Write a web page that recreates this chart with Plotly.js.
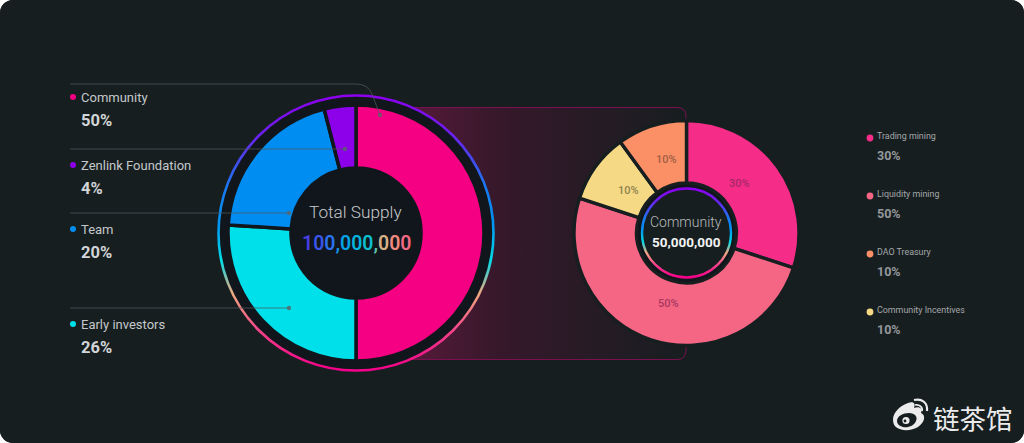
<!DOCTYPE html>
<html>
<head>
<meta charset="utf-8">
<script src="https://cdn.plot.ly/plotly-3.0.1.min.js"></script>
<style>
html,body{margin:0;padding:0;background:#fff;width:1024px;height:443px;overflow:hidden}
#card{width:1024px;height:443px;border-radius:13px;overflow:hidden;background:#171e20}
</style>
</head>
<body>
<div id="card"></div>
<script>
// ---- data ----
const supplyNames = ['Community','Early investors','Team','Zenlink Foundation'];
const supplyValues = [50,26,20,4];
const supplyColors = ['#f50082','#00e0ea','#008df2','#8c00ea'];
const communityNames = ['Trading mining','Liquidity mining','Community Incentives','DAO Treasury'];
const communityValues = [30,50,10,10];
const communityColors = ['#f52d88','#f56584','#f5d985','#fb8f65'];
const communityLabelColors = ['#a8286a','#a83a60','#8f8350','#a06045'];
const leftLegendNames = ['Community','Zenlink Foundation','Team','Early investors'];
const leftLegendPct = ['50%','4%','20%','26%'];
const leftLegendColors = ['#f50082','#8c00ea','#008df2','#00e0ea'];
const rightLegendNames = ['Trading mining','Liquidity mining','DAO Treasury','Community Incentives'];
const rightLegendPct = ['30%','50%','10%','10%'];
const rightLegendColors = ['#f52d88','#f56584','#fb8f65','#f5d985'];
const totalDigits = '100,000,000'.split('');
const totalDigitColors = ['#4a3fe0','#3a55e8','#2a72ee','#1590ea','#04a4e6','#02b4de','#0cc0d0','#60c0a8','#d8b088','#f08a80','#f06a84'];

// ---- layout in pixels ----
const W = 1024, H = 443;
const FONT = 'Roboto, sans-serif';
const pieA = {cx:356, cy:233, r:128, hole:0.508};
const pieB = {cx:686.5, cy:233, r:112.5, hole:0.444};
const sliceLabelX = [739,668,628,666], sliceLabelY = [183,303,190,159];
const dom = p => ({x:[(p.cx-p.r)/W,(p.cx+p.r)/W], y:[1-(p.cy+p.r)/H,1-(p.cy-p.r)/H]});
const circ = (cx,cy,r,extra) => Object.assign({type:'circle',xref:'x',yref:'y',x0:cx-r,x1:cx+r,y0:cy-r,y1:cy+r},extra);

const traces = [
 {type:'scatter',x:[0,W],y:[0,H],mode:'none',hoverinfo:'skip',showlegend:false},
 {type:'pie',labels:supplyNames,values:supplyValues,sort:false,direction:'clockwise',rotation:0,
  hole:pieA.hole,domain:dom(pieA),textinfo:'none',showlegend:false,
  marker:{colors:supplyColors,line:{color:'#10161b',width:3.5}}},
 {type:'pie',labels:communityNames,values:communityValues,sort:false,direction:'clockwise',rotation:0,
  hole:pieB.hole,domain:dom(pieB),textinfo:'none',showlegend:false,
  marker:{colors:communityColors,line:{color:'#171e20',width:3.4}}}
];

const shapes = [
 {type:'path',xref:'x',yref:'y',layer:'below',path:'M 400 107.5 L 677 107.5 Q 686 107.5 686 116 L 686 350 Q 686 359.5 677 359.5 L 400 359.5 Z',
  fillcolor:'#3a1a2e',line:{color:'#7a1050',width:1}},
 circ(pieA.cx,pieA.cy,137.5,{layer:'below',fillcolor:'#10161b',line:{color:'#8c00ea',width:2.6}}),
 circ(pieB.cx,pieB.cy,49.5,{layer:'below',fillcolor:'#10161b',line:{width:0}}),
 circ(pieB.cx,pieB.cy,44.5,{layer:'below',fillcolor:'#171e20',line:{color:'#8c00ea',width:2.4}}),
 {type:'path',xref:'x',yref:'y',path:'M 70 84 L 356 84 Q 368 84 372 94 L 380 115',line:{color:'rgba(78,88,92,0.75)',width:1}},
 {type:'line',xref:'x',yref:'y',x0:70,x1:345,y0:149,y1:149,line:{color:'rgba(78,88,92,0.75)',width:1}},
 {type:'line',xref:'x',yref:'y',x0:70,x1:289,y0:213,y1:213,line:{color:'rgba(78,88,92,0.75)',width:1}},
 {type:'line',xref:'x',yref:'y',x0:70,x1:289,y0:308,y1:308,line:{color:'rgba(78,88,92,0.75)',width:1}},
 circ(380,115,2.2,{fillcolor:'#5a6468',line:{width:0},opacity:.8}),
 circ(345,149,2.2,{fillcolor:'#5a6468',line:{width:0},opacity:.8}),
 circ(289,213,2.2,{fillcolor:'#5a6468',line:{width:0},opacity:.8}),
 circ(289,308,2.2,{fillcolor:'#5a6468',line:{width:0},opacity:.8})
];

const annotations = [];
function txt(x,y,text,size,color,opts){
 annotations.push(Object.assign({xref:'x',yref:'y',x,y,text,showarrow:false,xanchor:'left',yanchor:'middle',
  font:{family:FONT,size,color}},opts||{}));
}
const leftY = [97,165,229,324], leftVY=[120.5,188.5,252.5,347.5];
leftLegendNames.forEach((n,i)=>{
 shapes.push(circ(73,leftY[i],3,{fillcolor:leftLegendColors[i],line:{width:0}}));
 txt(79,leftY[i],n,13,'#c4c8ca');
 txt(79,leftVY[i],'<b>'+leftLegendPct[i]+'</b>',16.5,'#d2d5d7');
});
const rightY=[137,195,253,311], rightVY=[155.5,213.5,271.5,329.5];
rightLegendNames.forEach((n,i)=>{
 shapes.push(circ(870,i===3?312:rightY[i]+1,3.4,{fillcolor:rightLegendColors[i],line:{width:0}}));
 txt(875,rightY[i]-1,n,8.9,'#a4a8aa');
 txt(875,rightVY[i],'<b>'+rightLegendPct[i]+'</b>',12.5,'#94989c');
});
communityValues.forEach((v,i)=>{
 txt(sliceLabelX[i],sliceLabelY[i],v+'%',11,communityLabelColors[i],{xanchor:'center',font:{family:FONT,size:11,color:communityLabelColors[i],weight:500}});
});
txt(355.5,212,'Total Supply',17.2,'#c6c9cc',{xanchor:'center',font:{family:FONT,size:17.2,color:'#c6c9cc',weight:300}});
txt(356,243,totalDigits.map((c,i)=>'<span style="color:'+totalDigitColors[i]+'">'+c+'</span>').join(''),19.5,'#fff',
  {xanchor:'center',font:{family:FONT,size:19.5,color:'#fff',weight:600}});
txt(686,222,'Community',14,'#b8bcbe',{xanchor:'center',font:{family:FONT,size:14,color:'#b8bcbe',weight:300}});
txt(686,242,'<b>50,000,000</b>',13.5,'#f2f3f3',{xanchor:'center'});
txt(931,417,'链茶馆',26.5,'#ececec',{font:{family:'"Noto Sans CJK SC", sans-serif',size:26.5,color:'#ececec'}});

// weibo mark
shapes.push(
 {type:'path',xref:'x',yref:'y',path:'M 893 420 C 893 412 900 406 908 403 C 913 401 916 403 914 408 C 919 406 923 408 921 413 C 926 415 925 422 918 427 C 910 432 893 432 893 420 Z',fillcolor:'#ececec',line:{width:0}},
 {type:'path',xref:'x',yref:'y',path:'M 897 421 C 897 416 903 413 909 413 C 915 413 918 417 916 421 C 914 426 908 428 903 427 C 899 426 897 424 897 421 Z',fillcolor:'#171e20',line:{width:0}},
 circ(906,420.5,3.6,{fillcolor:'#ececec',line:{width:0}}),
 circ(905,421,1.4,{fillcolor:'#171e20',line:{width:0}}),
 {type:'path',xref:'x',yref:'y',path:'M 914 400 C 922 398 928 403 927 411',line:{color:'#ececec',width:2.2}},
 {type:'path',xref:'x',yref:'y',path:'M 915 405 C 919 404 923 407 922 411',line:{color:'#ececec',width:1.8}}
);

const layout = {
 width:W,height:H,margin:{l:0,r:0,t:0,b:0},paper_bgcolor:'#171e20',plot_bgcolor:'rgba(0,0,0,0)',
 showlegend:false,hovermode:false,
 xaxis:{range:[0,W],visible:false,fixedrange:true},
 yaxis:{range:[H,0],visible:false,fixedrange:true},
 shapes,annotations
};

Plotly.newPlot('card',traces,layout,{displayModeBar:false,staticPlot:true}).then(gd=>{
 const NS='http://www.w3.org/2000/svg';
 const svg=gd.querySelector('.main-svg');
 const defs=document.createElementNS(NS,'defs');
 const grad=(id,x2,y2,stops)=>{
  const g=document.createElementNS(NS,'linearGradient');
  g.setAttribute('id',id);g.setAttribute('x1','0');g.setAttribute('y1','0');g.setAttribute('x2',x2);g.setAttribute('y2',y2);
  stops.forEach(s=>{const e=document.createElementNS(NS,'stop');e.setAttribute('offset',s[0]);e.setAttribute('stop-color',s[1]);g.appendChild(e);});
  defs.appendChild(g);
 };
 grad('ringGrad','0','1',[[0,'#8c00ee'],[0.15,'#6a22f0'],[0.33,'#1a78f2'],[0.47,'#0096f0'],[0.6,'#00dce6'],[0.72,'#f0a880'],[0.86,'#f5408a'],[1,'#f5008a']]);
 grad('panelGrad','1','0',[[0,'#5a1a3c'],[0.35,'#36182a'],[1,'#171e20']]);
 svg.insertBefore(defs,svg.firstChild);
 gd.querySelectorAll('.shapelayer path').forEach(p=>{
  const n=p.getAttribute('data-index');
  if(n==='1'||n==='3'){p.style.stroke='url(#ringGrad)';}
  if(n==='0'){p.style.fill='url(#panelGrad)';p.style.fillOpacity=1;}
 });
});
</script>
</body>
</html>
